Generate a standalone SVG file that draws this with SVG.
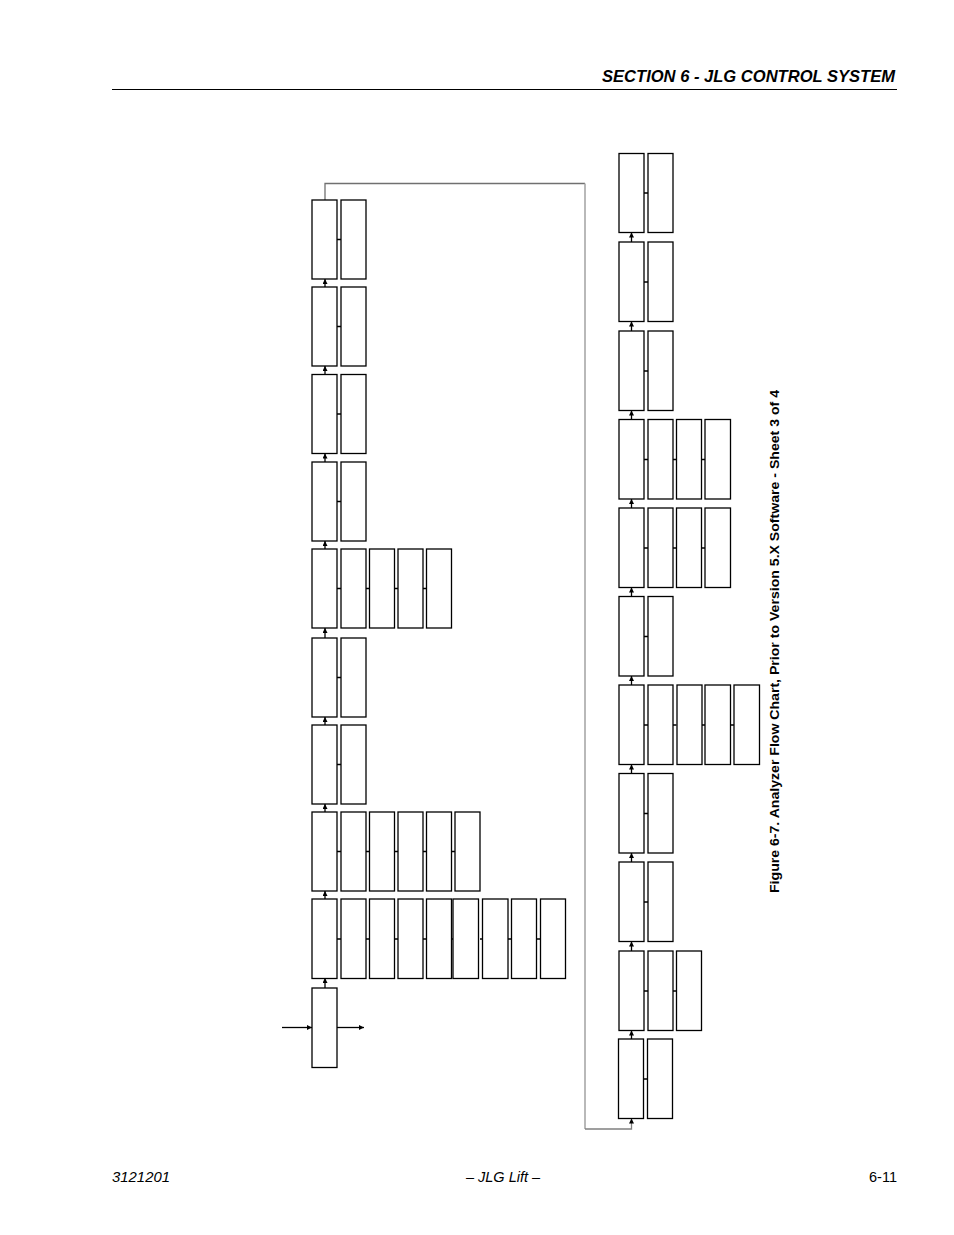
<svg xmlns="http://www.w3.org/2000/svg" width="954" height="1235" viewBox="0 0 954 1235">
<style>
.box{fill:#fff;stroke:#000;stroke-width:1.3}
.c{stroke:#000;stroke-width:1.3;fill:none}
.t{font-family:"Liberation Sans",Arial,sans-serif;fill:#000}
</style>
<defs>
<marker id="ah" viewBox="0 0 10 10" refX="10" refY="5" markerWidth="7" markerHeight="5" markerUnits="userSpaceOnUse" orient="auto">
<path d="M0,0 L10,5 L0,10 z" fill="#000"/>
</marker>
</defs>
<rect width="954" height="1235" fill="#fff"/>
<g id="header">
<text class="t" x="895" y="82" text-anchor="end" font-size="16.5" font-weight="bold" font-style="italic" textLength="293" lengthAdjust="spacingAndGlyphs">SECTION 6 - JLG CONTROL SYSTEM</text>
<line x1="112" y1="89.5" x2="897" y2="89.5" stroke="#000" stroke-width="1.2"/>
</g>
<g id="footer">
<text class="t" x="112" y="1182" font-size="14.5" font-style="italic" textLength="58" lengthAdjust="spacingAndGlyphs">3121201</text>
<text class="t" x="503" y="1182" font-size="14.5" font-style="italic" text-anchor="middle">– JLG Lift –</text>
<text class="t" x="897" y="1182" font-size="14.5" text-anchor="end">6-11</text>
</g>
<text class="t" transform="translate(779,641.5) rotate(-90)" text-anchor="middle" font-size="12" font-weight="bold" textLength="503" lengthAdjust="spacingAndGlyphs">Figure 6-7.  Analyzer Flow Chart, Prior to Version 5.X Software - Sheet 3 of 4</text>

<g id="connectors">
<polyline points="325,200 325,183.5 585,183.5" fill="none" stroke="#707070" stroke-width="1.3"/>
<polyline points="585,183.5 585,1129" fill="none" stroke="#a8a8a8" stroke-width="1.6"/>
<polyline points="585,1129 631.5,1129 631.5,1118.5" fill="none" stroke="#808080" stroke-width="1.3" marker-end="url(#ah)"/>
<line class="c" x1="282" y1="1027.5" x2="312" y2="1027.5" marker-end="url(#ah)"/>
<line class="c" x1="337" y1="1027.5" x2="364" y2="1027.5" marker-end="url(#ah)"/>
<line class="c" x1="325" y1="287" x2="325" y2="279" marker-end="url(#ah)"/>
<line class="c" x1="325" y1="374.5" x2="325" y2="366" marker-end="url(#ah)"/>
<line class="c" x1="325" y1="462" x2="325" y2="453.5" marker-end="url(#ah)"/>
<line class="c" x1="325" y1="549" x2="325" y2="541" marker-end="url(#ah)"/>
<line class="c" x1="325" y1="638" x2="325" y2="628" marker-end="url(#ah)"/>
<line class="c" x1="325" y1="725" x2="325" y2="717" marker-end="url(#ah)"/>
<line class="c" x1="325" y1="812" x2="325" y2="804" marker-end="url(#ah)"/>
<line class="c" x1="325" y1="899" x2="325" y2="891" marker-end="url(#ah)"/>
<line class="c" x1="325" y1="988" x2="325" y2="978" marker-end="url(#ah)"/>
<line class="c" x1="631.5" y1="242" x2="631.5" y2="232.5" marker-end="url(#ah)"/>
<line class="c" x1="631.5" y1="331" x2="631.5" y2="321.5" marker-end="url(#ah)"/>
<line class="c" x1="631.5" y1="419.5" x2="631.5" y2="410.5" marker-end="url(#ah)"/>
<line class="c" x1="631.5" y1="508" x2="631.5" y2="499" marker-end="url(#ah)"/>
<line class="c" x1="631.5" y1="596.5" x2="631.5" y2="587.5" marker-end="url(#ah)"/>
<line class="c" x1="631.5" y1="685" x2="631.5" y2="676" marker-end="url(#ah)"/>
<line class="c" x1="631.5" y1="773.5" x2="631.5" y2="764.5" marker-end="url(#ah)"/>
<line class="c" x1="631.5" y1="862" x2="631.5" y2="853" marker-end="url(#ah)"/>
<line class="c" x1="631.5" y1="951" x2="631.5" y2="941.5" marker-end="url(#ah)"/>
<line class="c" x1="631.5" y1="1039" x2="631.5" y2="1030.5" marker-end="url(#ah)"/>
<path class="c" d="M337,239.5h4 M337,326.5h4 M337,414h4 M337,501.5h4 M337,677.5h4 M337,764.5h4"/>
<path class="c" d="M337,588.5h4 M366,588.5h3.5 M394.5,588.5h3.5 M423,588.5h3.5"/>
<path class="c" d="M337,851.5h4 M366,851.5h3.5 M394.5,851.5h3.5 M423,851.5h3.5 M451.5,851.5h3.5"/>
<path class="c" d="M337,939h4 M366,939h3.5 M394.5,939h3.5 M423,939h3.5 M451.5,939h3.5 M480,939h3 M508,939h3.5 M536.5,939h3.5"/>
<path class="c" d="M644,193h4 M644,282h4 M644,371h4 M644,636.5h4 M644,813.5h4 M644,902h4 M644,1079h4"/>
<path class="c" d="M644,459.5h4 M673,459.5h3.5 M701.5,459.5h3.5"/>
<path class="c" d="M644,548h4 M673,548h3.5 M701.5,548h3.5"/>
<path class="c" d="M644,725h4 M673,725h3.5 M701.5,725h3.5 M730,725h4"/>
<path class="c" d="M644,991h4 M673,991h3.5"/>
</g>

<g id="L1"><rect class="box" x="312" y="200" width="25" height="79"/></g>
<g id="L1a"><rect class="box" x="341" y="200" width="25" height="79"/></g>
<g id="L2"><rect class="box" x="312" y="287" width="25" height="79"/></g>
<g id="L2a"><rect class="box" x="341" y="287" width="25" height="79"/></g>
<g id="L3"><rect class="box" x="312" y="374.5" width="25" height="79"/></g>
<g id="L3a"><rect class="box" x="341" y="374.5" width="25" height="79"/></g>
<g id="L4"><rect class="box" x="312" y="462" width="25" height="79"/></g>
<g id="L4a"><rect class="box" x="341" y="462" width="25" height="79"/></g>
<g id="L5"><rect class="box" x="312" y="549" width="25" height="79"/></g>
<g id="L5a"><rect class="box" x="341" y="549" width="25" height="79"/></g>
<g id="L5b"><rect class="box" x="369.5" y="549" width="25" height="79"/></g>
<g id="L5c"><rect class="box" x="398" y="549" width="25" height="79"/></g>
<g id="L5d"><rect class="box" x="426.5" y="549" width="25" height="79"/></g>
<g id="L6"><rect class="box" x="312" y="638" width="25" height="79"/></g>
<g id="L6a"><rect class="box" x="341" y="638" width="25" height="79"/></g>
<g id="L7"><rect class="box" x="312" y="725" width="25" height="79"/></g>
<g id="L7a"><rect class="box" x="341" y="725" width="25" height="79"/></g>
<g id="L8"><rect class="box" x="312" y="812" width="25" height="79"/></g>
<g id="L8a"><rect class="box" x="341" y="812" width="25" height="79"/></g>
<g id="L8b"><rect class="box" x="369.5" y="812" width="25" height="79"/></g>
<g id="L8c"><rect class="box" x="398" y="812" width="25" height="79"/></g>
<g id="L8d"><rect class="box" x="426.5" y="812" width="25" height="79"/></g>
<g id="L8e"><rect class="box" x="455" y="812" width="25" height="79"/></g>
<g id="L9"><rect class="box" x="312" y="899" width="25" height="79.5"/></g>
<g id="L9a"><rect class="box" x="341" y="899" width="25" height="79.5"/></g>
<g id="L9b"><rect class="box" x="369.5" y="899" width="25" height="79.5"/></g>
<g id="L9c"><rect class="box" x="398" y="899" width="25" height="79.5"/></g>
<g id="L9d"><rect class="box" x="426.5" y="899" width="25" height="79.5"/></g>
<g id="L9e"><rect class="box" x="453" y="899" width="25.5" height="79.5"/></g>
<g id="L9f"><rect class="box" x="482.5" y="899" width="25.5" height="79.5"/></g>
<g id="L9g"><rect class="box" x="511.5" y="899" width="25" height="79.5"/></g>
<g id="L9h"><rect class="box" x="540.5" y="899" width="25" height="79.5"/></g>
<g id="L10"><rect class="box" x="312" y="988" width="25" height="79.5"/></g>

<g id="R1"><rect class="box" x="619" y="153.5" width="25" height="79"/></g>
<g id="R1a"><rect class="box" x="648" y="153.5" width="25" height="79"/></g>
<g id="R2"><rect class="box" x="619" y="242" width="25" height="79.5"/></g>
<g id="R2a"><rect class="box" x="648" y="242" width="25" height="79.5"/></g>
<g id="R3"><rect class="box" x="619" y="331" width="25" height="79.5"/></g>
<g id="R3a"><rect class="box" x="648" y="331" width="25" height="79.5"/></g>
<g id="R4"><rect class="box" x="619" y="419.5" width="25" height="79.5"/></g>
<g id="R4a"><rect class="box" x="648" y="419.5" width="25" height="79.5"/></g>
<g id="R4b"><rect class="box" x="676.5" y="419.5" width="25" height="79.5"/></g>
<g id="R4c"><rect class="box" x="705" y="419.5" width="25.5" height="79.5"/></g>
<g id="R5"><rect class="box" x="619" y="508" width="25" height="79.5"/></g>
<g id="R5a"><rect class="box" x="648" y="508" width="25" height="79.5"/></g>
<g id="R5b"><rect class="box" x="676.5" y="508" width="25" height="79.5"/></g>
<g id="R5c"><rect class="box" x="705" y="508" width="25.5" height="79.5"/></g>
<g id="R6"><rect class="box" x="619" y="596.5" width="25" height="79.5"/></g>
<g id="R6a"><rect class="box" x="648" y="596.5" width="25" height="79.5"/></g>
<g id="R7"><rect class="box" x="619" y="685" width="25" height="79.5"/></g>
<g id="R7a"><rect class="box" x="648" y="685" width="25" height="79.5"/></g>
<g id="R7b"><rect class="box" x="677" y="685" width="25" height="79.5"/></g>
<g id="R7c"><rect class="box" x="705" y="685" width="25.5" height="79.5"/></g>
<g id="R7d"><rect class="box" x="734" y="685" width="25.5" height="79.5"/></g>
<g id="R8"><rect class="box" x="619" y="773.5" width="25" height="79.5"/></g>
<g id="R8a"><rect class="box" x="648" y="773.5" width="25" height="79.5"/></g>
<g id="R9"><rect class="box" x="619" y="862" width="25" height="79.5"/></g>
<g id="R9a"><rect class="box" x="648" y="862" width="25" height="79.5"/></g>
<g id="R10"><rect class="box" x="619" y="951" width="25" height="79.5"/></g>
<g id="R10a"><rect class="box" x="648" y="951" width="25" height="79.5"/></g>
<g id="R10b"><rect class="box" x="676.5" y="951" width="25" height="79.5"/></g>
<g id="R11"><rect class="box" x="618.5" y="1039" width="25" height="79.5"/></g>
<g id="R11a"><rect class="box" x="647.5" y="1039" width="25" height="79.5"/></g>
</svg>
